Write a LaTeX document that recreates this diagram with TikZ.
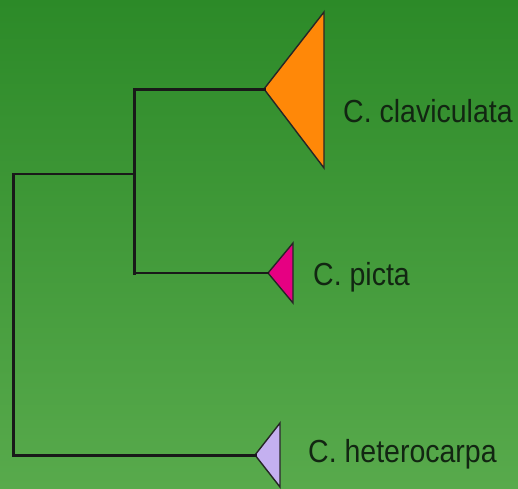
\documentclass[tikz,border=0pt]{standalone}
\usepackage{fontspec}
\setmainfont{Liberation Sans}
\newcommand{\tallname}[1]{\scalebox{1.0}[1.12]{#1}}
\begin{document}
\begin{tikzpicture}[x=1pt,y=-1pt,
  branch/.style={line width=3pt,color=black!90,line cap=rect},
  thinbranch/.style={line width=2.2pt,color=black!90,line cap=rect},
  clade/.style={line width=1.4pt,draw=black!85,line join=miter},
  taxon/.style={anchor=base west,inner sep=0pt,font=\fontsize{28.5}{30}\selectfont,text=txt}]
\definecolor{bgtop}{RGB}{44,138,40}
\definecolor{bgbot}{RGB}{88,170,76}
\definecolor{txt}{RGB}{18,38,18}
\definecolor{orangeC}{RGB}{255,136,8}
\definecolor{pinkC}{RGB}{230,0,130}
\definecolor{lilacC}{RGB}{196,176,240}
\useasboundingbox (0,0) rectangle (518,488);
\shade[top color=bgtop,bottom color=bgbot] (0,0) rectangle (518,488);
% junctions
\coordinate (root) at (13,174);
\coordinate (rootB) at (13,455);
\coordinate (inner) at (134,174);
\coordinate (innerT) at (134,89);
\coordinate (innerB) at (134,273);
% clade apexes
\coordinate (clavA) at (264,89);
\coordinate (pictA) at (268,273);
\coordinate (hetA) at (255,455);
% clades
\filldraw[clade,fill=orangeC] (clavA) -- (324,12) -- (324,168) -- cycle;
\filldraw[clade,fill=pinkC] (pictA) -- (293,243) -- (293,303) -- cycle;
\filldraw[clade,fill=lilacC] (hetA) -- (280,423) -- (280,487) -- cycle;
% branches
\draw[branch] (clavA) -- (innerT) -- (innerB);
\draw[thinbranch] (innerB) -- (pictA);
\draw[thinbranch] (inner) -- (root);
\draw[branch] (root) -- (rootB) -- (hetA);
% labels
\node[taxon] (clav) at (343,122) {\tallname{C. claviculata}};
\node[taxon] (pict) at (313,285) {\tallname{C. picta}};
\node[taxon] (het) at (308,462) {\tallname{C. heterocarpa}};
\end{tikzpicture}
\end{document}
